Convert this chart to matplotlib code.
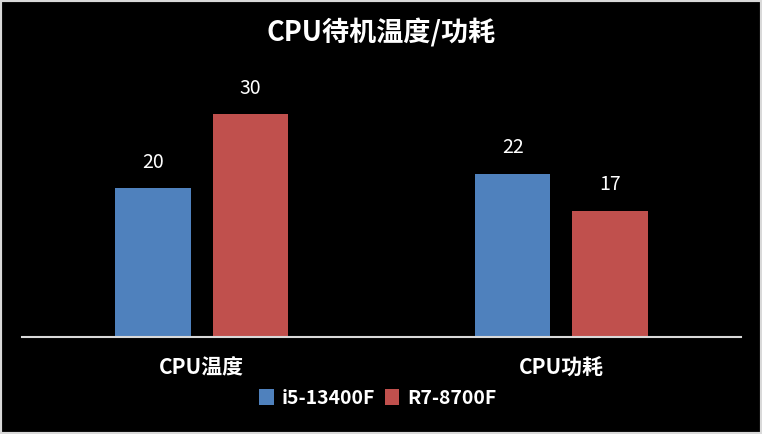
import matplotlib
matplotlib.use("Agg")
import matplotlib.pyplot as plt
from matplotlib.patches import Rectangle
import numpy as np

plt.rcParams['font.family'] = ['Noto Sans CJK SC', 'DejaVu Sans']

categories = ["CPU温度", "CPU功耗"]
series_names = ["i5-13400F", "R7-8700F"]
i5_values = [20, 22]
r7_values = [30, 17]
colors = ["#4F81BD", "#C0504D"]
title = "CPU待机温度/功耗"

fig = plt.figure(figsize=(7.62, 4.34), dpi=100, facecolor="black")
fig.patches.append(Rectangle((0, 0), 1, 1, transform=fig.transFigure,
                             facecolor="black", edgecolor="#D9D9D9", linewidth=3, zorder=-10))
ax = fig.add_axes([22/762, 1-337/434, (741-22)/762, (337-77)/434])
ax.set_facecolor("black")

x = np.arange(len(categories))
w = 0.21
off = 0.135
b1 = ax.bar(x - off, i5_values, w, color=colors[0], label=series_names[0])
b2 = ax.bar(x + off, r7_values, w, color=colors[1], label=series_names[1])
for bars in (b1, b2):
    for r in bars:
        ax.annotate(f"{r.get_height():g}", (r.get_x() + r.get_width()/2, r.get_height()),
                    xytext=(0, 11), textcoords="offset points", ha="center", va="bottom",
                    color="white", fontsize=14)

ax.set_xlim(-0.5, 1.5)
ax.set_ylim(0, 35)
for s in ["top", "right", "left"]:
    ax.spines[s].set_visible(False)
ax.spines["bottom"].set_color("#D9D9D9")
ax.spines["bottom"].set_linewidth(1.5)
ax.set_yticks([])
ax.set_xticks(x)
ax.set_xticklabels(categories, color="white", fontsize=15, fontweight="bold")
ax.tick_params(axis="x", length=0, pad=15)

fig.text(0.5, 1-33/434, title, ha="center", va="center", color="white",
         fontsize=19.5, fontweight="bold")
leg = fig.legend(handles=[b1, b2], loc="center", bbox_to_anchor=(0.496, 1-398/434),
                 ncol=2, frameon=False, fontsize=14, handlelength=0.75, handleheight=0.9,
                 handletextpad=0.4, columnspacing=0.5)
for t in leg.get_texts():
    t.set_color("white")
    t.set_fontweight("bold")

fig.savefig("out.png", dpi=100, facecolor="black")
